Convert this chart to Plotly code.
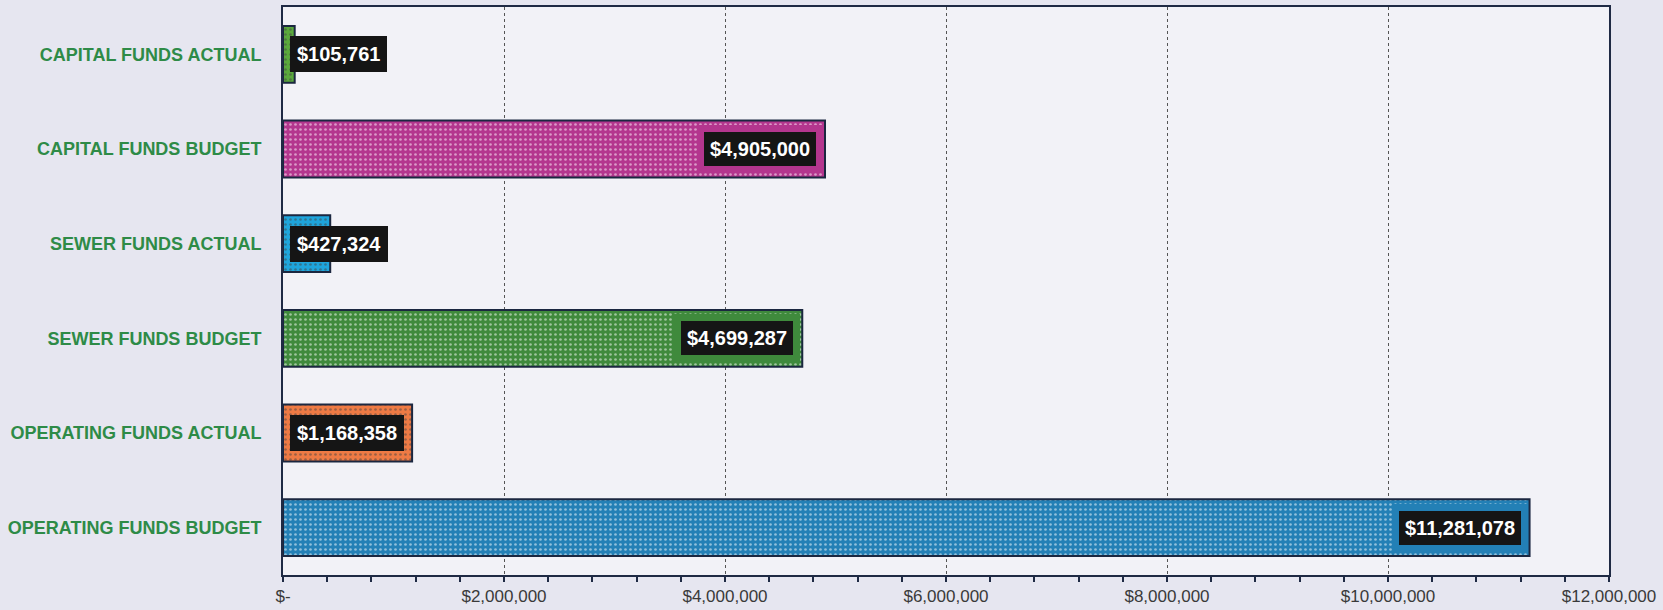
import plotly.graph_objects as go

categories = ["CAPITAL FUNDS ACTUAL", "CAPITAL FUNDS BUDGET", "SEWER FUNDS ACTUAL",
              "SEWER FUNDS BUDGET", "OPERATING FUNDS ACTUAL", "OPERATING FUNDS BUDGET"]
values = [105761, 4905000, 427324, 4699287, 1168358, 11281078]
labels = ["$105,761", "$4,905,000", "$427,324", "$4,699,287", "$1,168,358", "$11,281,078"]
bar_colors = ["#5aa83c", "#b4368e", "#1ea5dc", "#3f8a3c", "#ee7a44", "#2380b6"]
is_budget = [False, True, False, True, False, True]
tick_vals = [0, 2000000, 4000000, 6000000, 8000000, 10000000, 12000000]
tick_text = ["$-", "$2,000,000", "$4,000,000", "$6,000,000", "$8,000,000", "$10,000,000", "$12,000,000"]

fig = go.Figure()
fig.add_trace(go.Bar(
    x=values, y=categories, orientation="h",
    marker=dict(color=bar_colors, line=dict(color="#1b2740", width=2),
                pattern=dict(shape=".", fgcolor="rgba(255,255,255,0.6)", size=5, solidity=0.22)),
    width=0.6, hoverinfo="skip",
))

for cat, v, lab, col, bud in zip(categories, values, labels, bar_colors, is_budget):
    if bud:
        fig.add_annotation(x=v, y=cat, text=lab, showarrow=False, xanchor="right",
                           xshift=-2, bgcolor="#151515", bordercolor=col, borderwidth=7,
                           borderpad=6, font=dict(family="Liberation Sans", size=20, color="white", weight="bold"))
    else:
        fig.add_annotation(x=0, y=cat, text=lab, showarrow=False, xanchor="left",
                           xshift=7, bgcolor="#151515", bordercolor="#151515", borderwidth=2,
                           borderpad=5, font=dict(family="Liberation Sans", size=20, color="white", weight="bold"))

fig.update_layout(
    width=1663, height=610,
    margin=dict(l=283, r=54, t=7, b=35),
    paper_bgcolor="#e6e6f0", plot_bgcolor="#f2f2f7",
    showlegend=False,
)
fig.update_xaxes(
    range=[0, 12000000], tickvals=tick_vals, ticktext=tick_text,
    showgrid=True, gridcolor="#555555", griddash="dot", gridwidth=1,
    showline=True, mirror=True, linecolor="#1f2a44", linewidth=2,
    ticks="outside", ticklen=5, tickcolor="#1f2a44", tickwidth=1.5,
    minor=dict(dtick=400000, tick0=0, ticks="outside", ticklen=5, tickcolor="#1f2a44", tickwidth=1.5, showgrid=False),
    tickfont=dict(family="Liberation Sans", size=17, color="#3a3a3a"),
    zeroline=False, automargin=False,
)
fig.update_yaxes(
    autorange="reversed",
    showline=True, mirror=True, linecolor="#1f2a44", linewidth=2,
    ticks="outside", ticklen=16, tickcolor="rgba(0,0,0,0)",
    tickfont=dict(family="Liberation Sans", size=18, color="#2e8b47", weight="bold"),
    automargin=False,
)

fig.write_html("out.html")
